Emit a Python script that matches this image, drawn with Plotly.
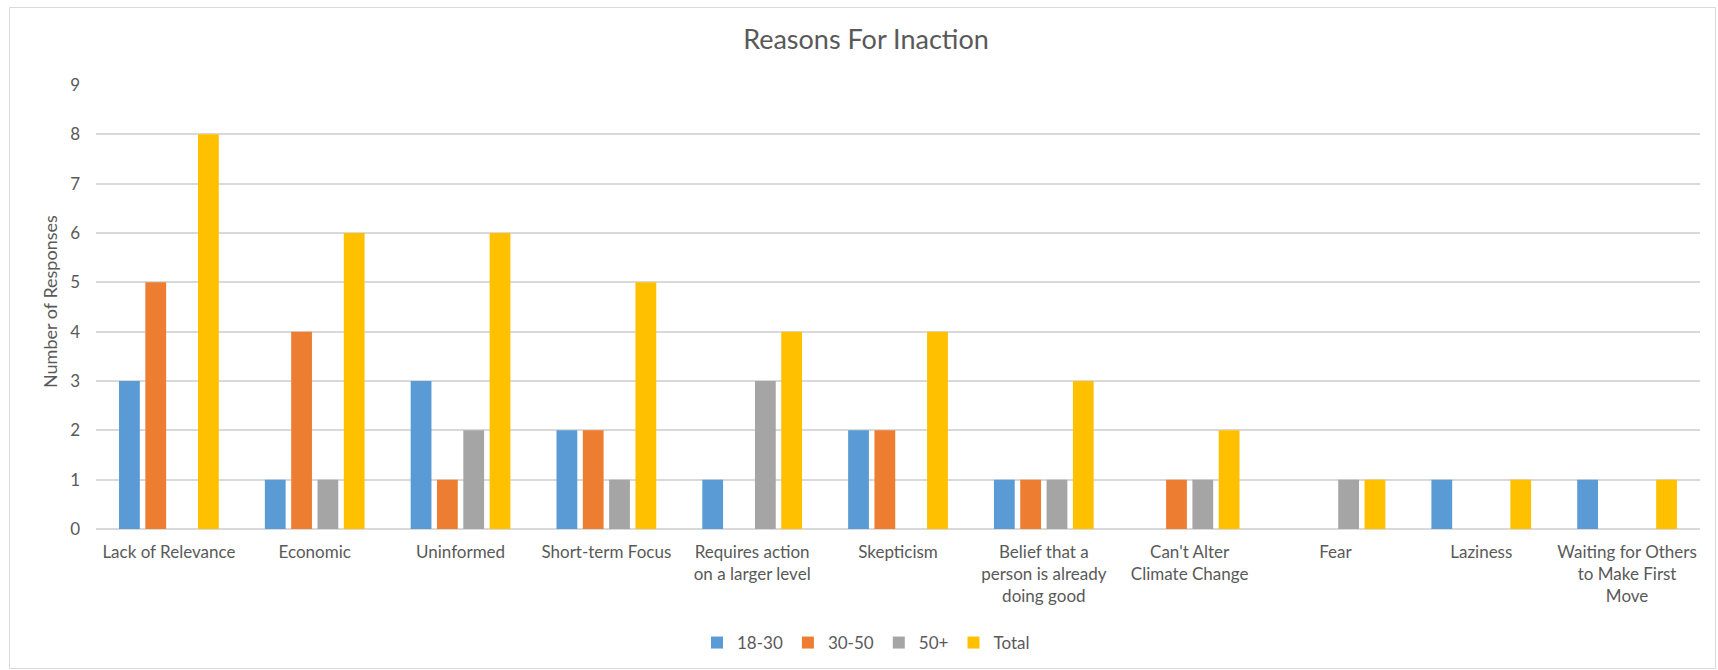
import plotly.graph_objects as go

# Survey results: reasons people give for not acting on climate change
categories = [
    "Lack of Relevance",
    "Economic",
    "Uninformed",
    "Short-term Focus",
    "Requires action<br>on a larger level",
    "Skepticism",
    "Belief that a<br>person is already<br>doing good",
    "Can't Alter<br>Climate Change",
    "Fear",
    "Laziness",
    "Waiting for Others<br>to Make First<br>Move",
]
age_18_30 = [3, 1, 3, 2, 1, 2, 1, 0, 0, 1, 1]
age_30_50 = [5, 4, 1, 2, 0, 2, 1, 1, 0, 0, 0]
age_50_plus = [0, 1, 2, 1, 3, 0, 1, 1, 1, 0, 0]
total = [8, 6, 6, 5, 4, 4, 3, 2, 1, 1, 1]

series_names = ["18-30", "30-50", "50+", "Total"]
series_colors = ["#5B9BD5", "#ED7D31", "#A5A5A5", "#FFC000"]
y_ticks = list(range(0, 10))

W, H = 1718, 670
L, R, T, B = 96, 18, 85, 141
TEXT = "#595959"
FONT = "Lato, 'Open Sans', sans-serif"

fig = go.Figure()
for name, vals, col in zip(series_names, [age_18_30, age_30_50, age_50_plus, total], series_colors):
    fig.add_trace(go.Bar(name=name, x=categories, y=vals, marker=dict(color=col, line=dict(width=0))))

pw, ph = W - L - R, H - T - B


def px_x(x):
    # pixel column -> paper x
    return (x - L) / pw


def px_y(y):
    # pixel row (from top) -> paper y
    return (H - B - y) / ph


fig.update_layout(
    width=W,
    height=H,
    margin=dict(l=L, r=R, t=T, b=B, pad=0),
    paper_bgcolor="white",
    plot_bgcolor="white",
    barmode="group",
    bargap=0.278,
    bargroupgap=0.21,
    font=dict(family=FONT, color=TEXT, size=17),
    title=dict(
        text="Reasons For Inaction",
        x=866 / W,
        xanchor="center",
        y=1 - 40 / H,
        yanchor="middle",
        font=dict(size=27, color=TEXT, family=FONT),
    ),
    xaxis=dict(
        showgrid=False,
        showline=False,
        ticks="",
        tickfont=dict(size=17, color=TEXT),
        ticklabelstandoff=11,
        fixedrange=True,
    ),
    yaxis=dict(
        range=[0, 9],
        tickvals=y_ticks,
        showgrid=True,
        gridcolor="#D9D9D9",
        gridwidth=1.5,
        zeroline=True,
        zerolinecolor="#D9D9D9",
        zerolinewidth=1.5,
        showline=False,
        ticks="",
        tickfont=dict(size=17, color=TEXT),
        ticklabelstandoff=15,
        fixedrange=True,
    ),
    legend=dict(
        orientation="h",
        x=866 / W,
        xanchor="center",
        xref="container",
        y=1 - 643 / H,
        yref="container",
        yanchor="middle",
        font=dict(size=17, color=TEXT),
        itemwidth=30,
        traceorder="normal",
    ),
    showlegend=True,
    annotations=[
        dict(
            text="Number of Responses",
            textangle=-90,
            xref="paper",
            yref="paper",
            x=px_x(50),
            y=px_y(302),
            xanchor="center",
            yanchor="middle",
            showarrow=False,
            font=dict(size=18, color=TEXT, family=FONT),
        )
    ],
    shapes=[
        dict(
            type="rect",
            xref="paper",
            yref="paper",
            x0=px_x(9.5),
            x1=px_x(1715.5),
            y0=px_y(668.5),
            y1=px_y(7.5),
            line=dict(color="#D9D9D9", width=1),
            fillcolor="rgba(0,0,0,0)",
            layer="below",
        )
    ],
)

fig.write_html("out.html")
